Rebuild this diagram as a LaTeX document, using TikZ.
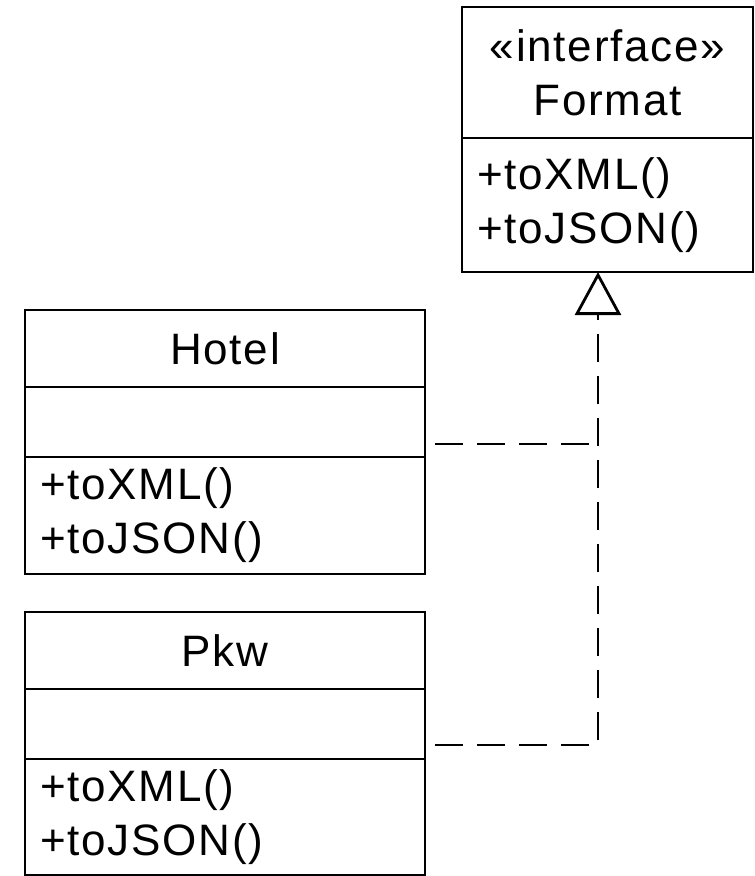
\documentclass[tikz,border=0pt]{standalone}
\usepackage{fontspec}
\setmainfont[LetterSpace=4]{Liberation Sans}
\usepackage{tikz}
\usetikzlibrary{arrows.meta,positioning}

\tikzset{
  classpart/.style={draw, line width=2.8pt, outer sep=0pt, inner xsep=15pt,
                    inner ysep=0pt, align=left, font=\fontsize{44}{54}\selectfont},
  realize/.style={line width=2.8pt, dash pattern=on 28pt off 14pt},
}

\begin{document}
\begin{tikzpicture}[x=1pt,y=-1pt]
      \useasboundingbox (0,0) rectangle (755,876);
      % interface
      \node[classpart, anchor=north west, text width=261pt, minimum height=131pt,
            align=center] (fmt-head) at (462,7) {«interface»\\Format};
      \node[classpart, text width=261pt, minimum height=134pt,
            below=0pt of fmt-head] (fmt-ops) {+toXML()\\+toJSON()};
      % Hotel
      \node[classpart, anchor=north west, text width=370pt, minimum height=77pt,
            align=center] (hotel-head) at (25,310) {Hotel};
      \node[classpart, text width=370pt, minimum height=70pt,
            below=0pt of hotel-head] (hotel-attr) {};
      \node[classpart, text width=370pt, minimum height=117pt,
            below=0pt of hotel-attr] (hotel-ops) {+toXML()\\+toJSON()};
      % Pkw
      \node[classpart, anchor=north west, text width=370pt, minimum height=77pt,
            align=center] (pkw-head) at (25,612) {Pkw};
      \node[classpart, text width=370pt, minimum height=70pt,
            below=0pt of pkw-head] (pkw-attr) {};
      \node[classpart, text width=370pt, minimum height=116pt,
            below=0pt of pkw-attr] (pkw-ops) {+toXML()\\+toJSON()};
      % realizations
      \coordinate (tip) at ([xshift=-9.5pt]fmt-ops.south);
      \coordinate (hotel-out) at ([yshift=-22pt]hotel-attr.east);
      \coordinate (pkw-out) at ([yshift=-21pt]pkw-attr.east);
      \draw[realize, shorten <=10pt] (hotel-out) -- (hotel-out -| tip);
      \draw[realize, shorten <=10pt, -{Triangle[open,length=43pt,width=46pt]}]
            (pkw-out) -| (tip);
    \end{tikzpicture}
\end{document}
